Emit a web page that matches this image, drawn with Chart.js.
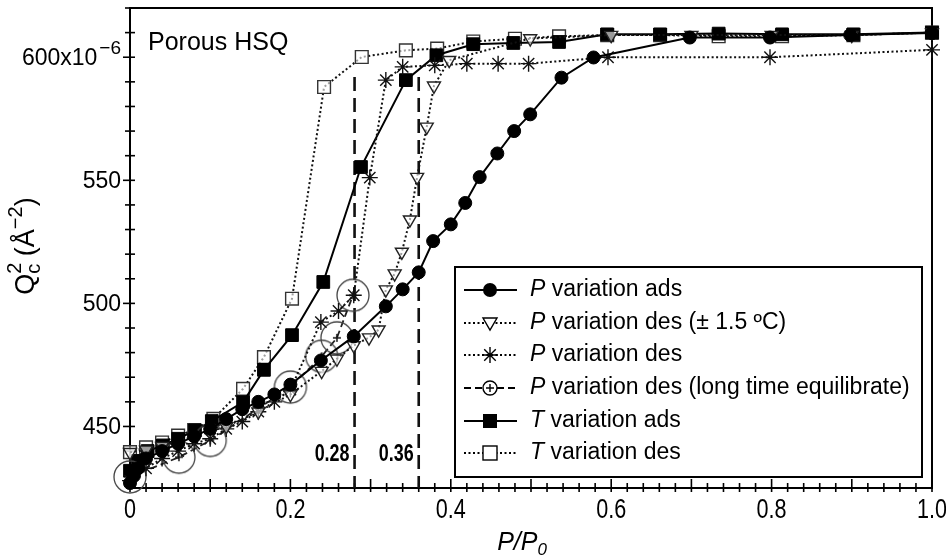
<!DOCTYPE html>
<html><head><meta charset="utf-8">
<script src="https://cdn.jsdelivr.net/npm/chart.js@4.4.1/dist/chart.umd.min.js"></script>
<style>html,body{margin:0;padding:0;background:#fff;overflow:hidden}#wrap{width:946px;height:557px;position:relative}</style>
</head><body><div id="wrap"><canvas id="c" width="946" height="557"></canvas></div>
<script>
// ---------- DATA (values in units of 1e-6 Å^-2) ----------
const pAdsX = [0, 0.005, 0.01, 0.02, 0.04, 0.06, 0.08, 0.10, 0.12, 0.14, 0.16, 0.18, 0.20, 0.238, 0.279, 0.319, 0.340, 0.360, 0.378, 0.400, 0.418, 0.436, 0.458, 0.479, 0.499, 0.538, 0.578, 0.698, 0.798, 0.898, 1.0];
const pAdsY = [427, 430, 433, 437, 440, 443, 446, 449, 453, 457, 460, 463, 467, 476.8, 486.6, 498.8, 505.7, 512.6, 525.3, 532.1, 540.8, 551.3, 560.9, 570, 576.8, 591.7, 599.9, 608, 608, 609, 609.8];

const pDes15X = [0, 0.02, 0.04, 0.08, 0.12, 0.16, 0.20, 0.239, 0.258, 0.279, 0.298, 0.310, 0.319, 0.330, 0.339, 0.349, 0.358, 0.370, 0.379, 0.398, 0.499, 0.60, 0.70, 0.80, 0.90, 1.0];
const pDes15Y = [439.5, 440.5, 442, 446, 450, 456, 463, 472.5, 477.5, 482.9, 486.1, 489.3, 505.6, 512.1, 520.9, 534, 551.3, 571.7, 588.4, 598.8, 607.6, 609, 609, 609, 609, 610];

const pDesX = [0, 0.02, 0.04, 0.06, 0.08, 0.10, 0.12, 0.14, 0.16, 0.18, 0.20, 0.238, 0.260, 0.279, 0.299, 0.319, 0.340, 0.380, 0.420, 0.459, 0.497, 0.596, 0.798, 1.0];
const pDesY = [428, 433, 437, 440, 443, 445, 449, 452, 456, 460, 465, 492.4, 496.9, 503.3, 551.1, 590.7, 596.1, 596.7, 597.4, 597.4, 597.4, 600, 600, 603];

const pLongX = [0, 0.061, 0.10, 0.20, 0.239, 0.258, 0.278];
const pLongY = [429.5, 437.5, 444.3, 466, 478.5, 486, 503.3];

const tAdsX = [0, 0.01, 0.022, 0.041, 0.06, 0.081, 0.102, 0.141, 0.167, 0.202, 0.241, 0.288, 0.344, 0.382, 0.428, 0.478, 0.535, 0.595, 0.661, 0.734, 0.813, 0.902, 1.0];
const tAdsY = [432, 436, 440, 442.3, 445, 448.4, 452.2, 459.9, 473, 487.1, 508.7, 555.4, 590.7, 600.8, 605.3, 605.8, 606.2, 609.3, 609.3, 609.6, 609.3, 609.3, 610];

const tDesX = [0, 0.02, 0.04, 0.06, 0.08, 0.104, 0.141, 0.167, 0.202, 0.242, 0.289, 0.344, 0.383, 0.428, 0.48, 0.535, 0.595, 0.661, 0.734, 0.813, 0.902, 1.0];
const tDesY = [439.6, 441.5, 443.5, 446.3, 448.5, 453.1, 465.3, 478.2, 501.9, 587.9, 600.1, 602.8, 603.5, 606.4, 607.5, 608.5, 609, 609, 608.5, 608.5, 609, 610];

const seriesNames = ['P variation ads', 'P variation des (\u00b1 1.5 \u00baC)', 'P variation des', 'P variation des (long time equilibrate)', 'T variation ads', 'T variation des'];

const markerLinesX = [0.28, 0.36];
const markerLinesLabels = ['0.28', '0.36'];
const markerLineTop = 592;

const xTickValues = [0,0.02,0.04,0.06,0.08,0.1,0.12,0.14,0.16,0.18,0.2,0.22,0.24,0.26,0.28,0.3,0.32,0.34,0.36,0.38,0.4,0.42,0.44,0.46,0.48,0.5,0.52,0.54,0.56,0.58,0.6,0.62,0.64,0.66,0.68,0.7,0.72,0.74,0.76,0.78,0.8,0.82,0.84,0.86,0.88,0.9,0.92,0.94,0.96,0.98,1.0];
const xLabelValues = [0, 0.2, 0.4, 0.6, 0.8, 1.0];
const xLabelTexts = ['0', '0.2', '0.4', '0.6', '0.8', '1.0'];
const yTickValues = [430,440,450,460,470,480,490,500,510,520,530,540,550,560,570,580,590,600,610,620];
const yLabelValues = [450, 500, 550, 600];
const yLabelTexts = ['450', '500', '550', '600x10'];

const Y_MIN = 425, Y_MAX = 620;

// ---------- helpers ----------
const pts = (xs, ys) => xs.map((x, i) => ({x: x, y: ys[i]}));
const SANS = '"Liberation Sans", Arial, Helvetica, sans-serif';

function circlePlusImg(r, lw, arm, col) {
  const c = document.createElement('canvas');
  const s = Math.ceil(2 * r + lw + 4);
  c.width = s; c.height = s;
  const g = c.getContext('2d');
  const m = s / 2;
  g.strokeStyle = col; g.lineWidth = lw;
  g.beginPath(); g.arc(m, m, r, 0, Math.PI * 2); g.stroke();
  g.lineWidth = 1.5; g.strokeStyle = '#111';
  g.beginPath(); g.moveTo(m - arm, m); g.lineTo(m + arm, m); g.moveTo(m, m - arm); g.lineTo(m, m + arm); g.stroke();
  return c;
}
const bigCirclePlus = circlePlusImg(16, 1.3, 4, '#444');

const DOT = [2, 2.5];
const datasets = [
  {label: seriesNames[0], data: pts(pAdsX, pAdsY), showLine: true, borderColor: '#000', borderWidth: 2,
   pointStyle: 'circle', pointRadius: 6.5, pointBackgroundColor: '#000', pointBorderColor: '#000', pointBorderWidth: 1},
  {label: seriesNames[1], data: pts(pDes15X, pDes15Y), showLine: true, borderColor: '#111', borderWidth: 2, borderDash: DOT,
   pointStyle: 'triangle', rotation: 180, pointRadius: 7.5, pointBackgroundColor: 'rgba(255,255,255,0.6)', pointBorderColor: '#222', pointBorderWidth: 1.4},
  {label: seriesNames[2], data: pts(pDesX, pDesY), showLine: true, borderColor: '#111', borderWidth: 2, borderDash: DOT,
   pointStyle: 'star', pointRadius: 8, pointBorderColor: '#111', pointBorderWidth: 1.4},
  {label: seriesNames[3], data: pts(pLongX, pLongY), showLine: true, borderColor: '#222', borderWidth: 1.8, borderDash: [7, 4],
   pointStyle: bigCirclePlus, pointRadius: 16},
  {label: seriesNames[4], data: pts(tAdsX, tAdsY), showLine: true, borderColor: '#000', borderWidth: 2,
   pointStyle: 'rect', pointRadius: 9, pointBackgroundColor: '#000', pointBorderColor: '#000', pointBorderWidth: 1},
  {label: seriesNames[5], data: pts(tDesX, tDesY), showLine: true, borderColor: '#111', borderWidth: 2, borderDash: DOT,
   pointStyle: 'rect', pointRadius: 9, pointBackgroundColor: 'rgba(255,255,255,0.6)', pointBorderColor: '#333', pointBorderWidth: 1.4}
];
markerLinesX.forEach((xv) => {
  datasets.push({label: 'marker ' + xv, data: [{x: xv, y: markerLineTop}, {x: xv, y: Y_MIN}], showLine: true,
    borderColor: '#111', borderWidth: 2.6, borderDash: [14, 7], pointRadius: 0});
});
datasets.forEach(d => { d.clip = false; d.tension = 0; });

// ---------- drawing plugin ----------
function legendMarker(ctx, i, x, y) {
  ctx.save();
  ctx.strokeStyle = '#000'; ctx.fillStyle = '#000'; ctx.lineWidth = 1.4;
  if (i === 0) { ctx.beginPath(); ctx.arc(x, y, 7, 0, Math.PI * 2); ctx.fill(); }
  else if (i === 1) { ctx.fillStyle = '#fff'; ctx.beginPath(); ctx.moveTo(x - 7, y - 5); ctx.lineTo(x + 7, y - 5); ctx.lineTo(x, y + 7); ctx.closePath(); ctx.fill(); ctx.stroke(); }
  else if (i === 2) { const r = 8; ctx.beginPath(); ctx.moveTo(x - r, y); ctx.lineTo(x + r, y); ctx.moveTo(x, y - r); ctx.lineTo(x, y + r);
    const d = r * 0.72; ctx.moveTo(x - d, y - d); ctx.lineTo(x + d, y + d); ctx.moveTo(x - d, y + d); ctx.lineTo(x + d, y - d); ctx.stroke(); }
  else if (i === 3) { ctx.fillStyle = '#fff'; ctx.beginPath(); ctx.arc(x, y, 7, 0, Math.PI * 2); ctx.fill(); ctx.stroke();
    ctx.beginPath(); ctx.moveTo(x - 4, y); ctx.lineTo(x + 4, y); ctx.moveTo(x, y - 4); ctx.lineTo(x, y + 4); ctx.stroke(); }
  else if (i === 4) { ctx.fillRect(x - 7, y - 7, 14, 14); }
  else if (i === 5) { ctx.fillStyle = '#fff'; ctx.fillRect(x - 7, y - 7, 14, 14); ctx.strokeRect(x - 7, y - 7, 14, 14); }
  ctx.restore();
}

function drawRich(ctx, parts, cx, cy) {
  let total = 0;
  parts.forEach(p => { ctx.font = p[1]; p.w = ctx.measureText(p[0]).width; if (p[3] !== false) total += p.w; });
  let x = cx - total / 2;
  parts.forEach(p => { ctx.font = p[1]; ctx.fillText(p[0], x, cy + p[2]); if (p[3] !== false) x += p.w; });
}
function narrowText(ctx, text, x, y, font, sx, align) {
  ctx.save(); ctx.font = font; ctx.textAlign = align; ctx.translate(x, y); ctx.scale(sx, 1);
  ctx.fillText(text, 0, 0); ctx.restore();
}

const decor = {
  id: 'decor',
  beforeDatasetsDraw(chart) {
    const ctx = chart.ctx, a = chart.chartArea, xs = chart.scales.x, ys = chart.scales.y;
    ctx.save();
    ctx.strokeStyle = '#000'; ctx.lineWidth = 2;
    ctx.strokeRect(a.left, a.top, a.right - a.left, a.bottom - a.top);
    ctx.lineWidth = 1.6;
    yTickValues.forEach(v => {
      const py = ys.getPixelForValue(v);
      const major = yLabelValues.indexOf(v) >= 0;
      ctx.beginPath(); ctx.moveTo(a.left - (major ? 7 : 5), py); ctx.lineTo(a.left + 5, py); ctx.stroke();
    });
    xTickValues.forEach(v => {
      const px = xs.getPixelForValue(v);
      const tenth = Math.abs(v * 10 - Math.round(v * 10)) < 1e-6;
      ctx.beginPath(); ctx.moveTo(px, a.bottom + 4); ctx.lineTo(px, a.bottom - (tenth ? 9 : 5)); ctx.stroke();
    });
    ctx.restore();
  },
  afterDatasetsDraw(chart) {
    const ctx = chart.ctx, a = chart.chartArea, xs = chart.scales.x, ys = chart.scales.y;
    ctx.save();
    ctx.fillStyle = '#000'; ctx.textBaseline = 'middle';
    // y labels
    ctx.textAlign = 'right';
    yLabelValues.forEach((v, i) => {
      const py = ys.getPixelForValue(v);
      if (v === 600) {
        ctx.font = '19px ' + SANS; const sw = ctx.measureText('\u22126').width;
        ctx.fillText('\u22126', a.left - 9, py - 8);
        ctx.font = '23px ' + SANS; ctx.fillText(yLabelTexts[i], a.left - 11 - sw, py + 1);
      } else {
        ctx.font = '23px ' + SANS; ctx.fillText(yLabelTexts[i], a.left - 9, py + 1);
      }
    });
    // x labels (condensed)
    xLabelValues.forEach((v, i) => { narrowText(ctx, xLabelTexts[i], xs.getPixelForValue(v), a.bottom + 23, '27px ' + SANS, 0.8, 'center'); });
    // marker-line labels (bold condensed)
    markerLinesX.forEach((v, i) => { narrowText(ctx, markerLinesLabels[i], xs.getPixelForValue(v) - 5, ys.getPixelForValue(438.5), 'bold 23px ' + SANS, 0.78, 'right'); });
    // Porous HSQ
    ctx.textAlign = 'left'; ctx.font = '25px ' + SANS;
    ctx.fillText('Porous HSQ', a.left + 18, 43);
    // x title
    drawRich(ctx, [['P/P', 'italic 25px ' + SANS, 0], ['0', 'italic 17px ' + SANS, 7]], 522, 543);
    // y title
    ctx.save(); ctx.translate(27, 246); ctx.rotate(-Math.PI / 2);
    const F = '27px ' + SANS, S = '20px ' + SANS;
    drawRich(ctx, [['Q', F, 0], ['2', S, -12, false], ['c', S, 7], [' (\u00c5', F, 0], ['\u22122', S, -11], [')', F, 0]], 0, 0);
    ctx.restore();
    // legend box
    const L = 455, T = 267, R = 922, B = 477;
    ctx.fillStyle = '#fff'; ctx.fillRect(L, T, R - L, B - T);
    ctx.strokeStyle = '#000'; ctx.lineWidth = 2; ctx.strokeRect(L, T, R - L, B - T);
    const rows = [290, 323, 355, 388, 421, 453];
    const dashes = [[], DOT, DOT, [7, 4], [], DOT];
    seriesNames.forEach((name, i) => {
      const y = rows[i];
      ctx.save(); ctx.strokeStyle = '#000'; ctx.lineWidth = 2; ctx.setLineDash(dashes[i]);
      ctx.beginPath(); ctx.moveTo(464, y); ctx.lineTo(517, y); ctx.stroke(); ctx.restore();
      legendMarker(ctx, i, 490, y);
      ctx.fillStyle = '#000'; ctx.textAlign = 'left';
      ctx.font = 'italic 23px ' + SANS; const first = name.charAt(0);
      ctx.fillText(first, 530, y);
      const w = ctx.measureText(first).width;
      ctx.font = '23px ' + SANS; ctx.fillText(name.slice(1), 530 + w, y);
    });
    ctx.restore();
  }
};

new Chart(document.getElementById('c'), {
  type: 'scatter',
  data: {datasets: datasets},
  options: {
    responsive: false, animation: false, devicePixelRatio: 1,
    layout: {autoPadding: false, padding: {left: 0, right: 14, top: 8, bottom: 0}},
    plugins: {legend: {display: false}, tooltip: {enabled: false}},
    scales: {
      x: {type: 'linear', min: 0, max: 1, grid: {display: false, drawTicks: false}, border: {display: false},
          ticks: {display: false}, afterFit: s => { s.height = 69; }},
      y: {type: 'linear', min: Y_MIN, max: Y_MAX, grid: {display: false, drawTicks: false}, border: {display: false},
          ticks: {display: false}, afterFit: s => { s.width = 130; }}
    }
  },
  plugins: [decor]
});
</script>
</body></html>
